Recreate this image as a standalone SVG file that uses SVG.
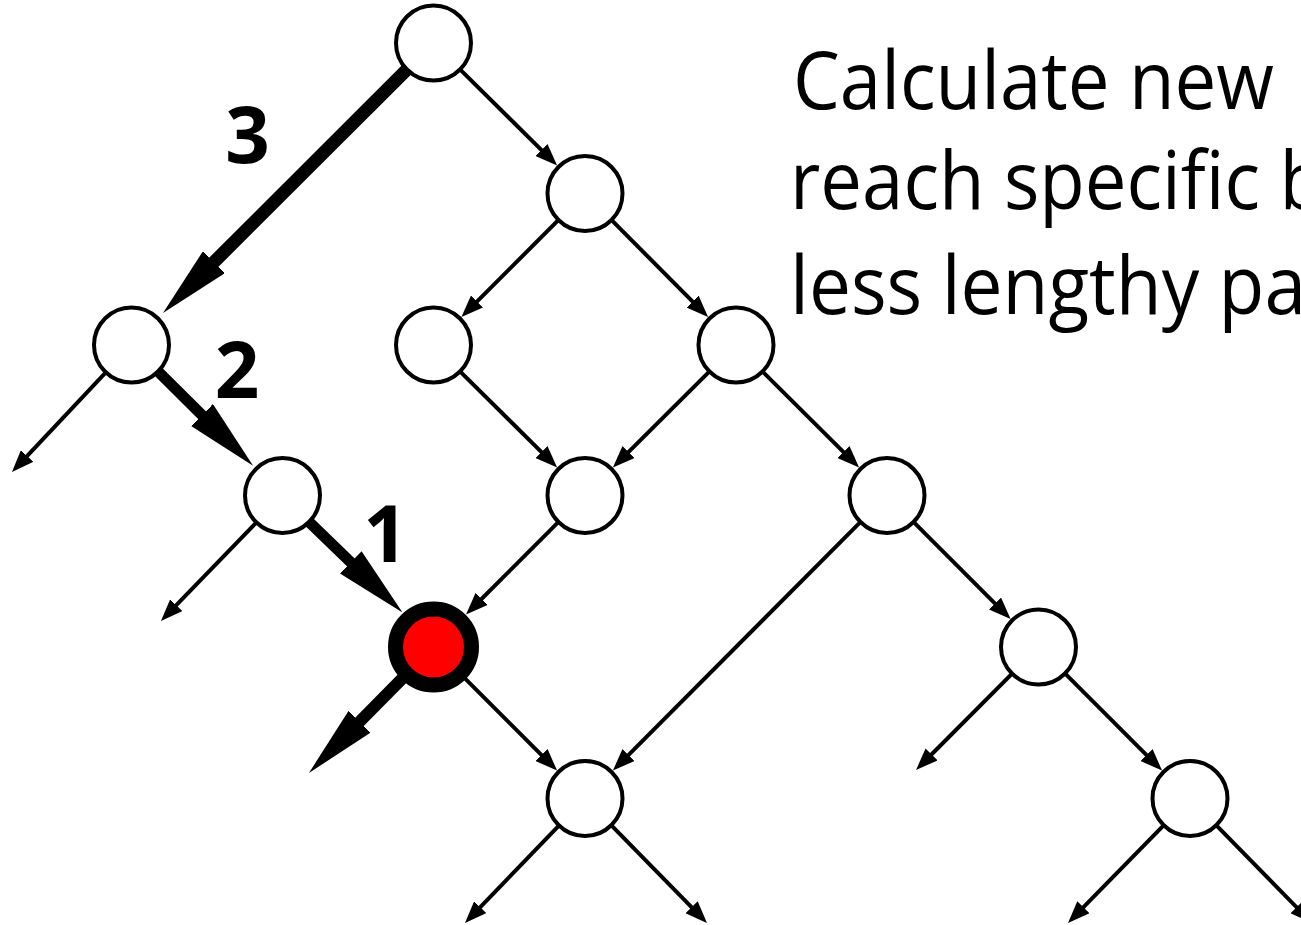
<svg xmlns="http://www.w3.org/2000/svg" width="1301" height="925" viewBox="0 0 1301 925">
<style>
.node{fill:#fff;stroke:#000;stroke-width:4}
.hot{fill:#ff0000;stroke:#000;stroke-width:15}
.thin{stroke:#000;stroke-width:4;fill:none;marker-end:url(#ah)}
.thick{stroke:#000;fill:none;marker-end:url(#ahb)}
.lbl{font-family:"Open Sans","Noto Sans",sans-serif;font-weight:bold;font-size:78px;text-anchor:middle;fill:#000}
.note{font-family:"Open Sans","Noto Sans",sans-serif;font-size:80px;fill:#000}
</style>
<defs>
<marker id="ah" markerUnits="userSpaceOnUse" viewBox="0 0 22 17" refX="10" refY="8.5" markerWidth="22" markerHeight="17" orient="auto">
<path d="M0,0 L22,8.5 L0,17 z" fill="#000"/>
</marker>
<marker id="ahb" markerUnits="userSpaceOnUse" viewBox="0 0 72 31" refX="22" refY="15.5" markerWidth="72" markerHeight="31" orient="auto">
<path d="M0,0 L72,15.5 L0,31 z" fill="#000"/>
</marker>
</defs>
<rect width="1301" height="925" fill="#fff"/>
<g id="connectors">
<line class="thin" x1="454.7" y1="64.2" x2="548.6" y2="157.1"/>
<line class="thin" x1="563.8" y1="214.7" x2="469.9" y2="308.6"/>
<line class="thin" x1="606.2" y1="214.7" x2="699.6" y2="308.6"/>
<line class="thin" x1="454.7" y1="366.2" x2="548.6" y2="459.1"/>
<line class="thin" x1="714.8" y1="366.2" x2="621.4" y2="459.1"/>
<line class="thin" x1="757.2" y1="366.2" x2="850.6" y2="459.1"/>
<line class="thin" x1="563.8" y1="516.7" x2="474.5" y2="606"/>
<line class="thin" x1="865.8" y1="516.7" x2="621.4" y2="762.1"/>
<line class="thin" x1="908.2" y1="516.7" x2="1002.1" y2="610.6"/>
<line class="thin" x1="454.7" y1="668.2" x2="548.6" y2="762.1"/>
<line class="thin" x1="1059.7" y1="668.2" x2="1153.6" y2="762.1"/>
<line class="thin" x1="111" y1="366.8" x2="20.2" y2="463.3"/>
<line class="thin" x1="261.6" y1="517.1" x2="169.3" y2="612.4"/>
<line class="thin" x1="1017.3" y1="668.3" x2="924.5" y2="761.5"/>
<line class="thin" x1="564.2" y1="820.1" x2="473.3" y2="914.4"/>
<line class="thin" x1="606" y1="819.9" x2="698.6" y2="914.4"/>
<line class="thin" x1="1169" y1="819.9" x2="1076.4" y2="914.4"/>
<line class="thin" x1="1211" y1="819.9" x2="1303.6" y2="914.4"/>
<line class="thick" stroke-width="13" x1="412.3" y1="64.2" x2="198.4" y2="277.6"/>
<line class="thick" stroke-width="11" x1="152.7" y1="366.2" x2="217.6" y2="430.6"/>
<line class="thick" stroke-width="11" x1="303.7" y1="516.7" x2="366.6" y2="577.6"/>
<line class="thick" stroke-width="12" x1="412.4" y1="668.3" x2="344.1" y2="737.4"/>
</g>
<g id="nA"><circle class="node" cx="433.5" cy="43" r="37.5"/></g>
<g id="nB"><circle class="node" cx="585" cy="193.5" r="37.5"/></g>
<g id="nC"><circle class="node" cx="131.5" cy="345" r="37.5"/></g>
<g id="nD"><circle class="node" cx="433.5" cy="345" r="37.5"/></g>
<g id="nE"><circle class="node" cx="736" cy="345" r="37.5"/></g>
<g id="nF"><circle class="node" cx="282.5" cy="495.5" r="37.5"/></g>
<g id="nG"><circle class="node" cx="585" cy="495.5" r="37.5"/></g>
<g id="nH"><circle class="node" cx="887" cy="495.5" r="37.5"/></g>
<g id="nI"><circle class="hot" cx="433.5" cy="647" r="38"/></g>
<g id="nJ"><circle class="node" cx="1038.5" cy="647" r="37.5"/></g>
<g id="nK"><circle class="node" cx="585" cy="798.5" r="37.5"/></g>
<g id="nL"><circle class="node" cx="1190" cy="798.5" r="37.5"/></g>
<g id="labels">
<text class="lbl" x="247.5" y="163">3</text>
<text class="lbl" x="237" y="398">2</text>
<text class="lbl" x="385.5" y="562">1</text>
</g>
<g id="note">
<text class="note" x="793" y="109" textLength="481" lengthAdjust="spacingAndGlyphs">Calculate new</text>
<text class="note" x="790" y="209" textLength="535" lengthAdjust="spacingAndGlyphs">reach specific b</text>
<text class="note" x="790" y="314" textLength="516" lengthAdjust="spacingAndGlyphs">less lengthy pa</text>
</g>
</svg>
